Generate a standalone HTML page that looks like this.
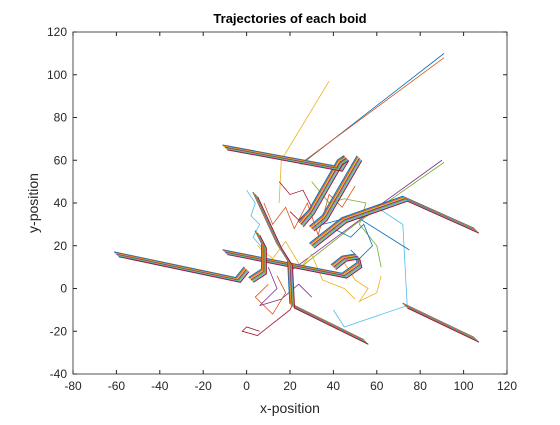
<!DOCTYPE html>
<html><head><meta charset="utf-8"><style>
body{margin:0;background:#fff;width:560px;height:420px;overflow:hidden}
svg{font-family:"Liberation Sans",sans-serif}
</style></head><body>
<svg id="c" width="560" height="420">
<rect width="560" height="420" fill="#fff"/>
<g id="plot"></g>
<rect x="73" y="32" width="434" height="342" fill="none" stroke="#262626" stroke-width="0.8"/>
<g id="ticks"></g>
<text x="290" y="23" text-anchor="middle" font-size="13" font-weight="bold" fill="#000">Trajectories of each boid</text>
<text x="290" y="413" text-anchor="middle" font-size="14" fill="#262626">x-position</text>
<text transform="translate(38,203) rotate(-90)" text-anchor="middle" font-size="14" fill="#262626">y-position</text>
</svg>
<script>
const xTicks=[-80,-60,-40,-20,0,20,40,60,80,100,120];
const yTicks=[-40,-20,0,20,40,60,80,100,120];
const colors=["#0072BD","#D95319","#EDB120","#7E2F8E","#77AC30","#4DBEEE","#A2142F"];
// thick bundles of boid paths (data coords: x,y pairs)
const bundleLeft=[[-60,16],[-4,4],[0,9]];
const bundleTop=[[-10,66],[43,56],[46,61],[43,59],[30,36],[25,30]];
const bundleTop2=[[52,61],[36,33],[30,28]];
const bundleMid=[[-10,17],[45,6],[52,11],[51,15],[45,14],[40,10]];
const bundleDiag=[[30,20],[45,32],[73,42],[106,27]];
const bundleDown=[[4,44],[15,20],[20,12],[21,-8],[55,-25]];
const bundleRight=[[73,-8],[106,-24]];
const bundleV=[[5,26],[8,20],[8,8],[2,4]];
const bundles=[bundleLeft,bundleTop,bundleTop2,bundleMid,bundleDiag,bundleDown,bundleRight,bundleV];
// thin wandering paths
const thin1=[[25,58],[91,110]];
const thin2=[[27,60],[91,108]];
const thin3=[[38,97],[16,60],[15,40]];
const thin4=[[20,8],[60,38],[90,60]];
const thin5=[[25,10],[50,30],[91,59]];
const thin6=[[60,38],[72,30],[74,-8],[45,-18],[40,-10]];
const thin7=[[6,-20],[0,-18],[-2,-20],[5,-22],[20,-10],[21,-8]];
const thin8=[[35,30],[50,34],[75,18]];
const thin9=[[8,40],[12,30],[18,38],[22,28],[28,40],[33,25],[38,44],[44,38],[50,48]];
const thin10=[[5,20],[12,14],[18,22],[25,10],[30,16],[35,4],[45,0],[50,-5]];
const thin11=[[10,10],[14,0],[6,-8],[16,-5],[24,2],[30,-4]];
const thin12=[[30,50],[38,40],[45,42],[55,40],[52,30],[60,20],[62,10]];
const thin13=[[0,46],[4,40],[2,34],[6,30],[3,24],[8,18]];
const thin14=[[15,50],[20,44],[26,46],[30,38],[24,32],[20,36]];
const thin15=[[40,28],[48,24],[54,30],[58,20],[52,14],[48,18]];
const thin16=[[10,2],[4,-4],[12,-12],[18,-2],[14,6]];
const thin17=[[45,12],[50,4],[56,0],[52,-6],[60,-2],[62,6]];
const thins=[thin1,thin2,thin3,thin4,thin5,thin6,thin7,thin8,thin9,thin10,thin11,thin12,thin13,thin14,thin15,thin16,thin17];
const X=v=>73+(v+80)*434/200, Y=v=>374-(v+40)*342/160;
const NS="http://www.w3.org/2000/svg";
const plot=document.getElementById('plot'), ticks=document.getElementById('ticks');
function poly(pts,col,dx,dy,w){
  const p=document.createElementNS(NS,'polyline');
  
  
  p.setAttribute('points',pts.map(q=>(X(q[0])+dx)+','+(Y(q[1])+dy)).join(' '));
  p.setAttribute('fill','none');p.setAttribute('stroke',col);p.setAttribute('stroke-width',w);
  plot.appendChild(p);
}
thins.forEach((t,i)=>poly(t,colors[i%7],0,0,0.8));
bundles.forEach(b=>{for(let k=0;k<7;k++){const o=(k-3)*0.8;poly(b,colors[k],o,o,1);}});
xTicks.forEach(v=>{
  const t=document.createElementNS(NS,'text');
  
  
  t.setAttribute('x',X(v));t.setAttribute('y',390);t.setAttribute('text-anchor','middle');
  t.setAttribute('font-size','12');t.setAttribute('fill','#262626');t.textContent=v;ticks.appendChild(t);
  const l=document.createElementNS(NS,'path');
  
  
  l.setAttribute('d',`M${X(v)},374v-4M${X(v)},32v4`);l.setAttribute('stroke','#262626');ticks.appendChild(l);
});
yTicks.forEach(v=>{
  const t=document.createElementNS(NS,'text');
  
  
  t.setAttribute('x',67);t.setAttribute('y',Y(v)+4);t.setAttribute('text-anchor','end');
  t.setAttribute('font-size','12');t.setAttribute('fill','#262626');t.textContent=v;ticks.appendChild(t);
  const l=document.createElementNS(NS,'path');
  
  
  l.setAttribute('d',`M73,${Y(v)}h4M507,${Y(v)}h-4`);l.setAttribute('stroke','#262626');ticks.appendChild(l);
});
</script>
</body></html>
